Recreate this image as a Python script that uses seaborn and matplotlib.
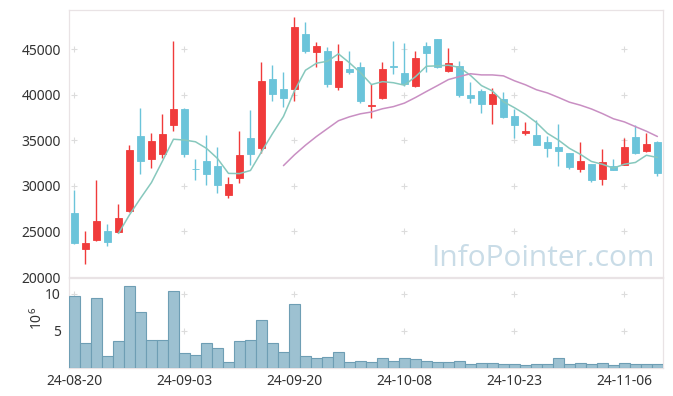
import numpy as np
import pandas as pd
import seaborn as sns
import matplotlib.pyplot as plt

# daily OHLC (KRW)
opens = [27000, 23100, 24100, 25100, 24950, 27250, 35450, 32950, 33550, 36700,
         38400, 31800, 32700, 32150, 29000, 30900, 35250, 34200, 41700, 40600,
         40600, 46650, 44700, 44800, 40850, 42800, 43050, 38750, 39650, 43150,
         42400, 41000, 45350, 46100, 42650, 43150, 39950, 40400, 39000, 39500,
         37650, 35750, 35600, 34800, 34300, 33600, 31850, 32350, 30750, 32150,
         32300, 35350, 33800, 34800]
highs = [29500, 25100, 30700, 25800, 28000, 34450, 38500, 35850, 37850, 45900,
         38500, 33000, 35550, 34250, 31000, 36050, 38300, 43550, 43250, 42500,
         48550, 47950, 45750, 45200, 45550, 44750, 43550, 41150, 43550, 45850,
         45650, 44750, 45750, 46150, 45150, 43700, 41450, 40650, 40750, 40300,
         38400, 37000, 37200, 35450, 36750, 33650, 34850, 32400, 34100, 33000,
         35250, 36700, 35800, 34900]
lows = [23600, 21400, 24000, 23450, 24800, 27150, 31300, 31950, 33100, 36000,
        33150, 30700, 30050, 29200, 28700, 30350, 32250, 33600, 39350, 38650,
        39350, 44600, 43000, 40800, 40550, 42300, 39150, 37500, 39500, 42250,
        41000, 40850, 42450, 42950, 42450, 39700, 39050, 38000, 36750, 37400,
        35300, 35550, 34450, 33150, 32150, 31800, 31550, 30400, 30150, 31700,
        32250, 33500, 33700, 31100]
closes = [23700, 23700, 26200, 23850, 26450, 33900, 32750, 34900, 35650, 38400,
          33450, 31800, 31300, 30100, 30200, 33350, 33500, 41500, 40100, 39650,
          47400, 44800, 45350, 41200, 43700, 42500, 39350, 38850, 42800, 43100,
          41150, 44000, 44600, 43000, 43450, 39950, 39650, 39000, 40050, 37550,
          36650, 36000, 34500, 34150, 33850, 32100, 32700, 30600, 32600, 31750,
          34250, 33650, 34550, 31400]
# volume in millions of shares
volumes = [9.73, 3.37, 9.43, 1.60, 3.63, 11.06, 7.48, 3.77, 3.77, 10.40,
           2.00, 1.73, 3.37, 2.71, 0.80, 3.63, 3.77, 6.42, 3.37, 2.17,
           8.67, 1.60, 1.39, 1.50, 2.17, 0.85, 0.98, 0.85, 1.33, 0.98,
           1.33, 1.19, 0.98, 0.85, 0.85, 0.98, 0.58, 0.72, 0.72, 0.58,
           0.58, 0.45, 0.58, 0.58, 1.33, 0.58, 0.72, 0.58, 0.72, 0.45,
           0.72, 0.58, 0.58, 0.58]
tick_labels = ["24-08-20", "24-09-03", "24-09-20", "24-10-08", "24-10-23", "24-11-06"]
price_ticks = [20000, 25000, 30000, 35000, 40000, 45000]
vol_ticks = [5, 10]

df = pd.DataFrame({'open': opens, 'high': highs, 'low': lows,
                   'close': closes, 'volume': volumes})
df['idx'] = np.arange(len(df))
df['ma5'] = df['close'].rolling(5).mean()
df['ma20'] = df['close'].rolling(20).mean()
n = len(df)

sns.set_style("white")
plt.rcParams['font.family'] = ['Noto Sans', 'DejaVu Sans']

UP = '#f03b3b'
DOWN = '#6bc4da'
SPINE = '#e9e3e5'
TXT = '#333333'
FS = 10

fig = plt.figure(figsize=(6.73, 3.96), dpi=100)
ax1 = fig.add_axes([0.1025, 0.3005, 0.8825, 0.6742])
ax2 = fig.add_axes([0.1025, 0.0707, 0.8825, 0.2273])

# candles
up = df['close'] > df['open']
cols = np.where(up, UP, DOWN)
ax1.vlines(df['idx'], df['low'], df['high'], colors=cols, linewidth=1.0, zorder=3)
body_lo = np.minimum(df['open'], df['close'])
body_h = np.maximum((df['close'] - df['open']).abs(), 60)
ax1.bar(df['idx'], body_h, bottom=body_lo, width=0.66, color=cols,
        edgecolor=cols, linewidth=0.6, zorder=4)

sns.lineplot(data=df, x='idx', y='ma5', ax=ax1, color='#87c8bd', linewidth=1.1, zorder=5)
sns.lineplot(data=df, x='idx', y='ma20', ax=ax1, color='#c98fc3', linewidth=1.1, zorder=5)

# volume
sns.barplot(x=df['idx'], y=df['volume'], ax=ax2, color='#9dc1d1', saturation=1,
            width=1.0, edgecolor='#6e9eb4', linewidth=0.8, zorder=3)

xt = np.arange(0, n, 10)
for ax in (ax1, ax2):
    ax.set_xlim(-0.5, n - 0.5)
    ax.set_xticks(xt)
    ax.set_xlabel('')
    ax.set_ylabel('')
    ax.tick_params(length=0, labelsize=FS, labelcolor=TXT, pad=6)
    for s in ax.spines.values():
        s.set_color(SPINE)
        s.set_linewidth(0.9)

ax1.set_ylim(20000, 49300)
ax1.set_yticks(price_ticks)
ax1.set_xticklabels([])
ax2.set_ylim(0, 12.1)
ax2.set_yticks(vol_ticks)
ax2.set_xticklabels(tick_labels)
ax2.tick_params(axis='x', pad=4)
ax2.set_ylabel(r'$\mathregular{10^6}$', fontsize=FS, color=TXT)
ax2.yaxis.set_label_coords(-0.039, 0.55)

# small '+' marks at grid crossings
gx, gy = np.meshgrid(xt, price_ticks[1:])
ax1.plot(gx.ravel(), gy.ravel(), '+', color='#dcdcdc', markersize=4, mew=0.8, zorder=1)
gx, gy = np.meshgrid(xt, vol_ticks)
ax2.plot(gx.ravel(), gy.ravel(), '+', color='#dcdcdc', markersize=4, mew=0.8, zorder=1)

ax1.text(0.9865, 0.04, 'InfoPointer.com', transform=ax1.transAxes, ha='right',
         va='baseline', fontsize=21.5, color='#c9dce7', family=['Open Sans', 'DejaVu Sans'],
         zorder=0)

fig.savefig('out.png', dpi=100)
